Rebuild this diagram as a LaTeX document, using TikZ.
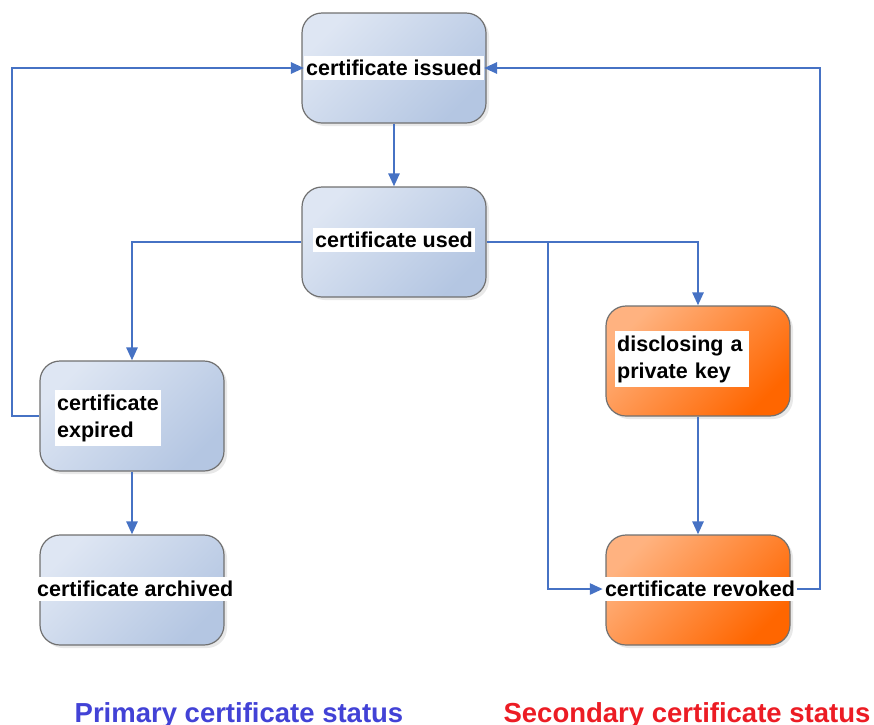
\documentclass[tikz,border=0pt]{standalone}
\usepackage{fontspec}
\setmainfont{Liberation Sans}
\usetikzlibrary{arrows.meta,shadows}

\definecolor{lineblue}{RGB}{70,114,196}
\definecolor{boxblue}{RGB}{180,198,226}
\definecolor{boxbluemid}{RGB}{196,210,233}
\definecolor{boxbluelight}{RGB}{222,230,243}
\definecolor{boxorange}{RGB}{255,102,0}
\definecolor{boxedge}{RGB}{112,112,112}
\definecolor{primblue}{RGB}{66,66,214}
\definecolor{secred}{RGB}{236,28,36}

\begin{document}
\begin{tikzpicture}[x=1pt,y=-1pt,
    state/.style={draw=boxedge,line width=1.2pt,rounded corners=20pt,
        minimum width=184pt,minimum height=110pt,
        drop shadow={opacity=0.18,shadow xshift=3pt,shadow yshift=-3pt}},
    primary/.style={state,left color=boxbluelight,middle color=boxbluemid,
        right color=boxblue,shading angle=45},
    secondary/.style={state,left color=boxorange!50!white,middle color=boxorange,
        right color=boxorange,shading angle=45},
    tag/.style={fill=white,inner xsep=2pt,inner ysep=4pt,align=left,
        font=\bfseries\fontsize{21.5}{27}\selectfont},
    flow/.style={draw=lineblue,line width=2.6pt,-{Triangle[length=13pt,width=11pt]}},
    legend/.style={font=\bfseries\fontsize{27.5}{30}\selectfont}]
\useasboundingbox (0,0) rectangle (874,724);

% state boxes
\node [primary] (issued) at (394,68) {};
\node [primary] (used) at (394,242) {};
\node [primary] (expired) at (132,416) {};
\node [primary] (archived) at (132,590) {};
\node [secondary] (disclosing) at (698,361) {};
\node [secondary] (revoked) at (698,590) {};

% texts on the boxes
\node [tag] (issuedtxt) at (issued.center) {certificate issued};
\node [tag] (usedtxt) at (394,240) {certificate used};
\node [tag,anchor=west] (expiredtxt) at (55,418) {certificate\\expired};
\node [tag,anchor=west] (archivedtxt) at (35,589) {certificate archived};
\node [tag,anchor=west,text width=130pt] (disclosingtxt) at (615,359)
    {disclosing a\\private key};
\node [tag] (revokedtxt) at (700,589) {certificate revoked};

% helper points for the rails
\coordinate (split) at (548,242);
\coordinate (backL) at (12,68);
\coordinate (backR) at (820,68);

% connectors
\draw [flow] (issued.south) -- (used.north);
\draw [flow] (used.west) -| (expired.north);
\draw [flow] (used.east) -| (disclosing.north);
\draw [flow] (split) |- (revokedtxt.west);
\draw [flow] (disclosing.south) -- (revoked.north);
\draw [flow] (expired.south) -- (archived.north);
\draw [flow] (expired.west) -| (backL) -- (issuedtxt.west);
\draw [flow] (revokedtxt.east) -| (backR) -- (issuedtxt.east);

% legend
\node [legend,text=primblue] (primlegend) at (239,715) {Primary certificate status};
\node [legend,text=secred] (seclegend) at (687,715) {Secondary certificate status};
\end{tikzpicture}
\end{document}
